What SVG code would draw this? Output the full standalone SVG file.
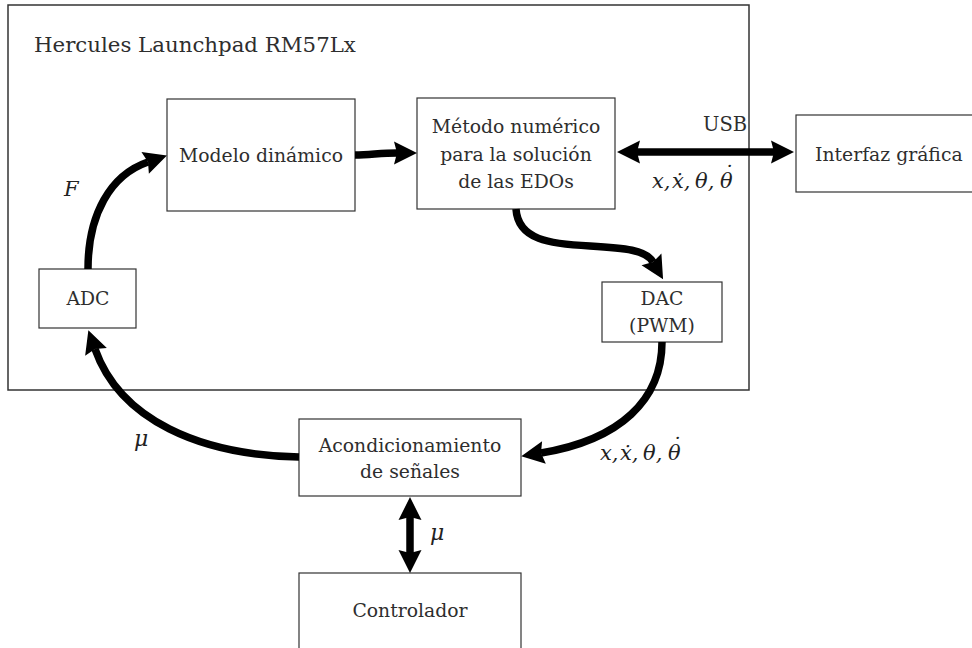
<svg xmlns="http://www.w3.org/2000/svg" width="972" height="648" viewBox="0 0 972 648">
<style>
  .box { fill: #ffffff; stroke: #333333; stroke-width: 1.2; }
  .outer { fill: none; stroke: #333333; stroke-width: 1.5; }
  .t { font-family: "DejaVu Serif", "Liberation Serif", serif; font-size: 18.8px; fill: #2e2e2e; text-anchor: middle; }
  .title { font-family: "DejaVu Serif", "Liberation Serif", serif; font-size: 21.3px; fill: #2e2e2e; }
  .m { font-family: "DejaVu Serif", "Liberation Serif", serif; font-style: italic; font-size: 21px; fill: #222222; }
  .c { fill: none; stroke: #000000; stroke-width: 7.5; }
</style>
<defs>
  <marker id="ah" markerUnits="userSpaceOnUse" markerWidth="24" markerHeight="24" refX="3" refY="11.5" orient="auto-start-reverse" overflow="visible">
    <path d="M0,0 L23,11.5 L0,23 L3,11.5 z" fill="#000000"/>
  </marker>
</defs>
<rect width="972" height="648" fill="#ffffff"/>

<g id="hercules">
  <rect class="outer" x="8" y="5" width="741" height="385"/>
  <text class="title" x="34" y="52">Hercules Launchpad RM57Lx</text>
</g>

<g id="modelo">
  <rect class="box" x="167" y="99" width="188" height="112"/>
  <text class="t" x="261" y="162">Modelo dinámico</text>
</g>

<g id="metodo">
  <rect class="box" x="417" y="98" width="198" height="111"/>
  <text class="t" x="516" y="133">Método numérico</text>
  <text class="t" x="516" y="161">para la solución</text>
  <text class="t" x="516" y="188">de las EDOs</text>
</g>

<g id="interfaz">
  <rect class="box" x="796" y="115" width="190" height="77"/>
  <text class="t" x="815" y="161" style="text-anchor:start">Interfaz gráfica</text>
</g>

<g id="adc">
  <rect class="box" x="39" y="269" width="97" height="59"/>
  <text class="t" x="88" y="305">ADC</text>
</g>

<g id="dac">
  <rect class="box" x="602" y="282" width="120" height="60"/>
  <text class="t" x="662" y="305">DAC</text>
  <text class="t" x="662" y="332">(PWM)</text>
</g>

<g id="acond">
  <rect class="box" x="299" y="419" width="222" height="77"/>
  <text class="t" x="410" y="452">Acondicionamiento</text>
  <text class="t" x="410" y="478">de señales</text>
</g>

<g id="controlador">
  <rect class="box" x="299" y="573" width="222" height="90"/>
  <text class="t" x="410" y="617">Controlador</text>
</g>

<g id="connectors">
  <path class="c" d="M355,155 C370,155 380,153 397,153" marker-end="url(#ah)"/>
  <path class="c" d="M637,152 L774,152" marker-start="url(#ah)" marker-end="url(#ah)"/>
  <path class="c" d="M88,269 C88,215 110,175 148,162" marker-end="url(#ah)"/>
  <path class="c" d="M516,209 C518,240 550,244 590,246 C625,248 646,250 653,262" marker-end="url(#ah)"/>
  <path class="c" d="M662,342 C662,400 620,440 541,453" marker-end="url(#ah)"/>
  <path class="c" d="M299,457 C200,455 120,420 95,349" marker-end="url(#ah)"/>
  <path class="c" d="M410,517 L410,553" marker-start="url(#ah)" marker-end="url(#ah)"/>
</g>

<g id="labels">
  <text class="title" x="703" y="131" style="font-size:19.5px">USB</text>
  <text class="m" y="188"><tspan x="652">x,</tspan><tspan x="672">ẋ,</tspan><tspan x="695">θ,</tspan><tspan x="720">θ</tspan><tspan x="722.5" y="180">˙</tspan></text>
  <text class="m" y="460"><tspan x="600">x,</tspan><tspan x="620">ẋ,</tspan><tspan x="643">θ,</tspan><tspan x="668">θ</tspan><tspan x="670.5" y="452">˙</tspan></text>
  <text class="m" x="64" y="196">F</text>
  <text class="m" x="134" y="446" style="font-size:22px">μ</text>
  <text class="m" x="430" y="540" style="font-size:22px">μ</text>
</g>
</svg>
